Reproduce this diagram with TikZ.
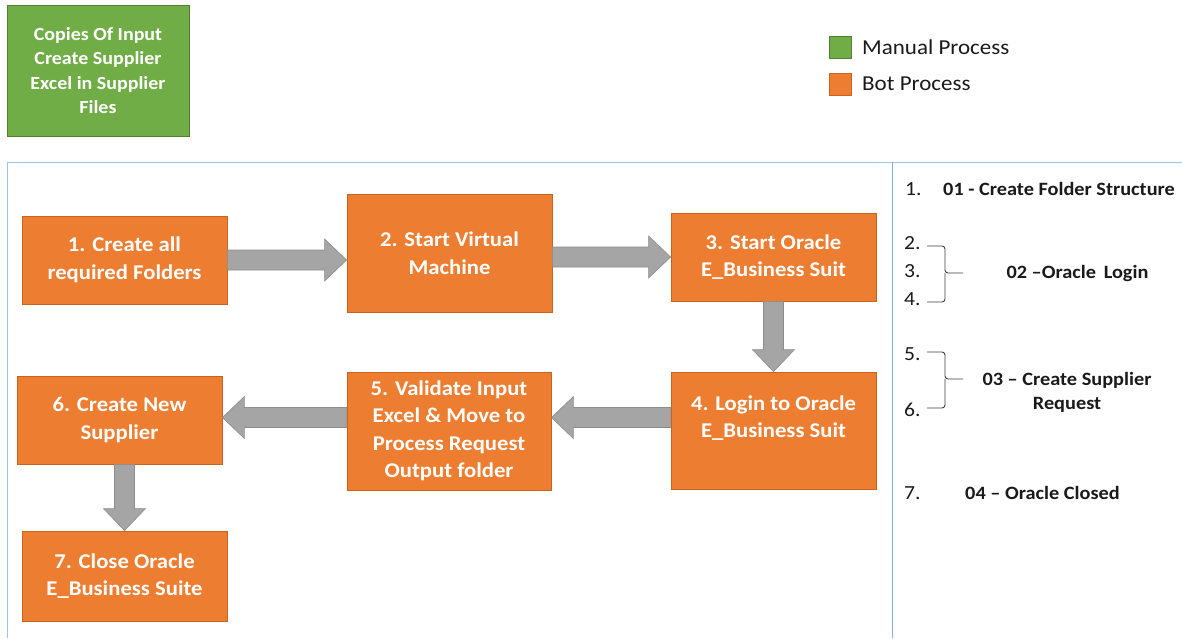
\documentclass[tikz,border=0pt]{standalone}
\usepackage{fontspec}
\setmainfont[FakeStretch=1.08]{Carlito}
\usetikzlibrary{calc}
\definecolor{orng}{HTML}{ED7D31}
\definecolor{orngdark}{HTML}{C9631E}
\definecolor{grn}{HTML}{70AD47}
\definecolor{grndark}{HTML}{507E32}
\definecolor{arrgray}{HTML}{A5A5A5}
\definecolor{arrdark}{HTML}{8C8C8C}
\definecolor{frameblue}{HTML}{9DC3E6}
\definecolor{divblue}{HTML}{8EA9DB}
\definecolor{txt}{HTML}{1A1A1A}
\tikzset{
  proc/.style={draw=orngdark, fill=orng, line width=0.8pt, text=white,
    font=\bfseries\fontsize{21}{27.5}\selectfont, align=center, inner sep=0pt},
  manual/.style={draw=grndark, fill=grn, line width=0.8pt, text=white,
    font=\bfseries\fontsize{18.5}{24.5}\selectfont, align=center, inner sep=0pt},
  barrow/.style={fill=arrgray, draw=arrdark, line width=0.6pt, line join=miter},
  frame/.style={draw=frameblue, line width=1pt},
  divider/.style={draw=divblue, line width=1pt},
  legtxt/.style={text=txt, font=\fontsize{21.3}{24}\selectfont, anchor=west, inner sep=0pt},
  numtxt/.style={text=txt, font=\fontsize{20}{22}\selectfont, anchor=west, inner sep=0pt},
  sectxt/.style={text=txt, font=\bfseries\fontsize{18.8}{24}\selectfont, inner sep=0pt, align=center},
  brace/.style={draw=black!75, line width=0.9pt, rounded corners=3pt}
}
\newcommand\blockarr[2]{%
  \path (#1) coordinate (bA) (#2) coordinate (bB);
  \path ($(bB)!22pt!(bA)$) coordinate (bC);
  \filldraw[barrow] ($(bA)!10pt!90:(bB)$) -- ($(bC)!10pt!-90:(bA)$) -- ($(bC)!21pt!-90:(bA)$)
    -- (bB) -- ($(bC)!21pt!90:(bA)$) -- ($(bC)!10pt!90:(bA)$) -- ($(bA)!10pt!-90:(bB)$) -- cycle;}
\begin{document}
\begin{tikzpicture}[x=1pt,y=-1pt]
\useasboundingbox (0,0) rectangle (1182,638);
\fill[white] (0,0) rectangle (1182,638);

% frame
\draw[frame] (7,638) -- (7,162) -- (1182,162);
\draw[divider] (892,162) -- (892,638);

% manual box
\node[manual, minimum width=182pt, minimum height=131pt] (copies) at (98,70.5)
  {Copies Of Input\\Create Supplier\\Excel in Supplier\\Files};

% legend
\node[draw=grndark, fill=grn, line width=0.8pt, minimum size=22pt, inner sep=0pt] (legm) at (840,47) {};
\node[legtxt] (legmt) at (862,47) {Manual Process};
\node[draw=orngdark, fill=orng, line width=0.8pt, minimum size=22pt, inner sep=0pt] (legb) at (840,84) {};
\node[legtxt] (legbt) at (862,84) {Bot Process};

% process boxes
\node[proc, minimum width=205pt, minimum height=88pt] (b1) at (124.5,260) {1. Create all\\required Folders};
\node[proc, minimum width=205pt, minimum height=118pt] (b2) at (449.5,253) {2. Start Virtual\\Machine};
\node[proc, minimum width=205pt, minimum height=88pt] (b3) at (773.5,257) {3. Start Oracle\\E\_Business Suit};
\node[proc, minimum width=205pt, minimum height=117pt] (b4) at (773.5,430.5) {4. Login to Oracle\\E\_Business Suit\\\mbox{}};
\node[proc, minimum width=204pt, minimum height=118pt] (b5) at (449,431) {5. Validate Input\\Excel \& Move to\\Process Request\\Output folder};
\node[proc, minimum width=205pt, minimum height=88pt] (b6) at (119.5,420) {6. Create New\\Supplier};
\node[proc, minimum width=205pt, minimum height=90pt] (b7) at (124.5,576) {7. Close Oracle\\E\_Business Suite};

% arrows
\blockarr{b1.east}{b2.west |- b1.east}
\blockarr{b2.east |- b3.west}{b3.west}
\blockarr{b3.south}{b4.north}
\path ($(b4.west)+(0,-13)$) coordinate (a45s);
\blockarr{a45s}{b5.east |- a45s}
\blockarr{b5.west |- a45s}{b6.east |- a45s}
\blockarr{b6.south -| b7.north}{b7.north}

% right panel
\node[numtxt] (n1) at (905,189) {1.};
\node[sectxt, anchor=west] (s1) at (943,189) {01 - Create Folder Structure};
\node[numtxt] (n2) at (904,243) {2.};
\node[numtxt] (n3) at (904,271) {3.};
\node[numtxt] (n4) at (904,299) {4.};
\draw[brace] (927,246) -- (945,246) -- (945,273) -- (963,273);
\draw[brace] (927,302) -- (945,302) -- (945,273);
\node[sectxt] (s2) at (1077.5,273) {02 --Oracle\, Login};
\node[numtxt] (n5) at (904,354) {5.};
\node[numtxt] (n6) at (904,410) {6.};
\draw[brace] (927,352) -- (945,352) -- (945,379) -- (963,379);
\draw[brace] (927,408) -- (945,408) -- (945,379);
\node[sectxt] (s3) at (1067,392) {03 -- Create Supplier\\Request};
\node[numtxt] (n7) at (904,493) {7.};
\node[sectxt, anchor=west] (s4) at (965,493) {04 -- Oracle Closed};
\end{tikzpicture}
\end{document}
